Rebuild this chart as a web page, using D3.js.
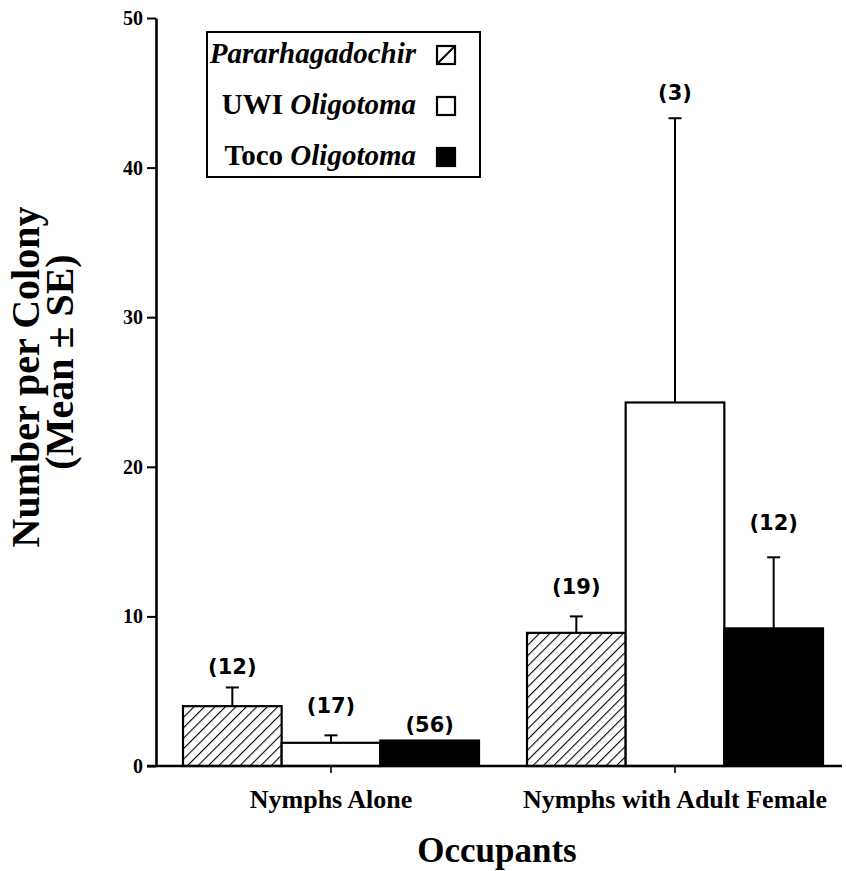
<!DOCTYPE html>
<html>
<head>
<meta charset="utf-8">
<script src="https://cdn.jsdelivr.net/npm/d3@7"></script>
<style>
  html, body { margin: 0; padding: 0; background: #fff; }
  svg { display: block; }
</style>
</head>
<body>
<svg id="chart" width="846" height="871"></svg>
<script>
// ---- data ----
const categories = ["Nymphs Alone", "Nymphs with Adult Female"];
const seriesNames = ["Pararhagadochir", "UWI Oligotoma", "Toco Oligotoma"];
const pararhagadochirMean = [4.0, 8.9];
const uwiOligotomaMean = [1.55, 24.3];
const tocoOligotomaMean = [1.7, 9.2];
const pararhagadochirSE = [1.25, 1.1];
const uwiOligotomaSE = [0.5, 19.0];
const tocoOligotomaSE = [0, 4.75];
const pararhagadochirN = ["(12)", "(19)"];
const uwiOligotomaN = ["(17)", "(3)"];
const tocoOligotomaN = ["(56)", "(12)"];
// heights (data units) at which the sample-size labels sit
const pararhagadochirNAt = [6.15, 11.5];
const uwiOligotomaNAt = [3.55, 44.5];
const tocoOligotomaNAt = [2.27, 15.8];
const yTicks = [0, 10, 20, 30, 40, 50];

const seriesMeans = [pararhagadochirMean, uwiOligotomaMean, tocoOligotomaMean];
const seriesSE = [pararhagadochirSE, uwiOligotomaSE, tocoOligotomaSE];
const seriesN = [pararhagadochirN, uwiOligotomaN, tocoOligotomaN];
const seriesNAt = [pararhagadochirNAt, uwiOligotomaNAt, tocoOligotomaNAt];

const rows = [];
categories.forEach((c, ci) => {
  seriesNames.forEach((s, si) => {
    rows.push({ cat: c, ser: s, si, mean: seriesMeans[si][ci], se: seriesSE[si][ci],
                n: seriesN[si][ci], nAt: seriesNAt[si][ci] });
  });
});

// ---- layout ----
const svg = d3.select("#chart");
const serif = "'Liberation Serif', 'Times New Roman', Times, serif";
const sans = "'DejaVu Sans', Verdana, sans-serif";
const axisX = 156, axisY0 = 766, axisYTop = 18, axisXRight = 842;

const y = d3.scaleLinear().domain([0, 50]).range([axisY0, axisYTop]);
const x0 = d3.scaleBand().domain(categories).range([159, 847]).padding(0);
const groupW = 296;
const x1 = d3.scaleBand().domain(seriesNames).range([0, groupW]).padding(0);
const groupOff = (x0.bandwidth() - groupW) / 2;

// hatch pattern
const defs = svg.append("defs");
const pat = defs.append("pattern")
  .attr("id", "hatch").attr("patternUnits", "userSpaceOnUse")
  .attr("width", 7.4).attr("height", 7.4)
  .attr("patternTransform", "rotate(45)");
pat.append("rect").attr("width", 7.4).attr("height", 7.4).attr("fill", "#fff");
pat.append("line").attr("x1", 0).attr("y1", 0).attr("x2", 0).attr("y2", 7.4)
  .attr("stroke", "#000").attr("stroke-width", 2.2);

const fillFor = si => si === 0 ? "url(#hatch)" : (si === 1 ? "#fff" : "#000");

// bars
const barX = d => x0(d.cat) + groupOff + x1(d.ser);
svg.append("g").selectAll("rect").data(rows).join("rect")
  .attr("x", barX)
  .attr("y", d => y(d.mean))
  .attr("width", x1.bandwidth())
  .attr("height", d => y(0) - y(d.mean))
  .attr("fill", d => fillFor(d.si))
  .attr("stroke", "#000").attr("stroke-width", 2.2);

// error bars (upper only)
const eb = svg.append("g").attr("stroke", "#000").attr("stroke-width", 2);
rows.filter(d => d.se > 0).forEach(d => {
  const cx = barX(d) + x1.bandwidth() / 2;
  eb.append("line").attr("x1", cx).attr("x2", cx)
    .attr("y1", y(d.mean)).attr("y2", y(d.mean + d.se));
  eb.append("line").attr("x1", cx - 6.5).attr("x2", cx + 6.5)
    .attr("y1", y(d.mean + d.se)).attr("y2", y(d.mean + d.se));
});

// sample size labels
svg.append("g").selectAll("text").data(rows).join("text")
  .attr("x", d => barX(d) + x1.bandwidth() / 2)
  .attr("y", d => y(d.nAt))
  .attr("text-anchor", "middle")
  .attr("font-family", sans).attr("font-size", 21).attr("font-weight", "bold")
  .text(d => d.n);

// y axis
const yAxis = svg.append("g").attr("transform", `translate(${axisX},0)`)
  .call(d3.axisLeft(y).tickValues(yTicks).tickSize(9).tickSizeOuter(0).tickPadding(4));
yAxis.select(".domain").attr("stroke-width", 2.6);
yAxis.selectAll(".tick line").attr("stroke-width", 2);
yAxis.selectAll("text").attr("font-family", serif).attr("font-size", 20)
  .attr("font-weight", "bold").attr("fill", "#000");

// x axis
const xAxis = svg.append("g").attr("transform", `translate(0,${axisY0})`)
  .call(d3.axisBottom(x0).tickSize(7).tickPadding(17));
xAxis.select(".domain").remove();
xAxis.append("line").attr("x1", axisX - 9).attr("x2", axisXRight)
  .attr("y1", 0).attr("y2", 0).attr("stroke", "#000").attr("stroke-width", 2.6);
xAxis.selectAll(".tick line").attr("stroke-width", 1.6);
xAxis.selectAll("text").attr("font-family", serif).attr("font-size", 26)
  .attr("font-weight", "bold").attr("fill", "#000");

// axis titles
svg.append("text").attr("x", 497).attr("y", 862).attr("text-anchor", "middle")
  .attr("font-family", serif).attr("font-size", 35).attr("font-weight", "bold")
  .text("Occupants");
svg.append("text").attr("transform", "translate(39,377) rotate(-90)")
  .attr("text-anchor", "middle")
  .attr("font-family", serif).attr("font-size", 40).attr("font-weight", "bold")
  .text("Number per Colony");
svg.append("text").attr("transform", "translate(73,362) rotate(-90)")
  .attr("text-anchor", "middle")
  .attr("font-family", serif).attr("font-size", 40).attr("font-weight", "bold")
  .text("(Mean \u00B1 SE)");

// legend
const lg = svg.append("g");
lg.append("rect").attr("x", 207).attr("y", 32).attr("width", 273).attr("height", 145)
  .attr("fill", "#fff").attr("stroke", "#000").attr("stroke-width", 2);
const legendBase = [63, 114, 165];
seriesNames.forEach((s, si) => {
  const t = lg.append("text").attr("x", 416).attr("y", legendBase[si])
    .attr("text-anchor", "end").attr("font-family", serif).attr("font-size", 29)
    .attr("font-weight", "bold");
  const parts = s.split(" ");
  if (parts.length === 1) {
    t.append("tspan").attr("font-style", "italic").text(parts[0]);
  } else {
    t.append("tspan").text(parts[0] + " ");
    t.append("tspan").attr("font-style", "italic").text(parts[1]);
  }
  const sy = legendBase[si] - 17, sx = 437, sz = 18;
  lg.append("rect").attr("x", sx).attr("y", sy).attr("width", sz).attr("height", sz)
    .attr("fill", si === 2 ? "#000" : "#fff").attr("stroke", "#000").attr("stroke-width", 2.2);
  if (si === 0) {
    lg.append("line").attr("x1", sx).attr("y1", sy + sz).attr("x2", sx + sz).attr("y2", sy)
      .attr("stroke", "#000").attr("stroke-width", 2.2);
  }
});
</script>
</body>
</html>
